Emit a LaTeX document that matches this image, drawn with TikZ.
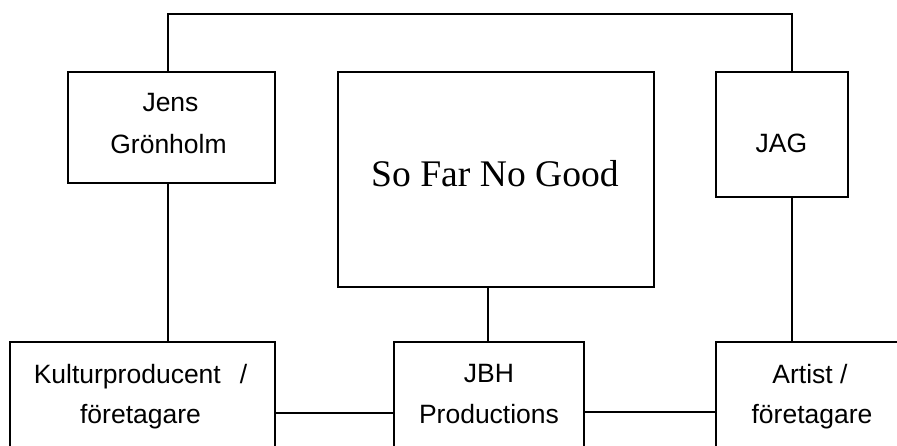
\documentclass[tikz,border=0pt]{standalone}
\usepackage{fontspec}
\setmainfont{Liberation Serif}
\newfontfamily\lsans{Liberation Sans}
\tikzset{
  box/.style={draw=black, line width=1.5pt, rectangle, inner sep=0pt, fill=none},
  conn/.style={draw=black, line width=1.5pt},
  lbl/.style={anchor=base, inner sep=0pt, font=\lsans\fontsize{26.5}{26.5}\selectfont},
  big/.style={anchor=base, inner sep=0pt, font=\fontsize{37.6}{40}\selectfont}
}
\begin{document}
\begin{tikzpicture}[x=1pt,y=-1pt]
\useasboundingbox (0,0) rectangle (897,445);
\clip (0,0) rectangle (897,445);
% boxes (positions in pixel coordinates)
\node[box, minimum width=207pt, minimum height=111pt] (jens) at (171.5,127.5) {};
\node[box, minimum width=316pt, minimum height=215pt] (sfng) at (496,179.5) {};
\node[box, minimum width=132pt, minimum height=125pt] (jag) at (782,134.5) {};
\node[box, minimum width=265pt, minimum height=118pt] (kult) at (142.5,401) {};
\node[box, minimum width=190pt, minimum height=118pt] (jbh) at (489,401) {};
\node[box, minimum width=190pt, minimum height=118pt] (art) at (811,401) {};
% texts
\node[lbl] (t1) at (170.5,111.5) {Jens};
\node[lbl] (t2) at (168.5,153) {Grönholm};
\node[big] (t3) at (495,186) {So Far No Good};
\node[lbl] (t4) at (781.5,152) {JAG};
\node[lbl] (t5) at (140.5,383) {Kulturproducent\hspace{19pt}/};
\node[lbl] (t6) at (140.5,423) {företagare};
\node[lbl] (t7) at (489,382) {JBH};
\node[lbl] (t8) at (489,423) {Productions};
\node[lbl] (t9) at (810,383) {Artist /};
\node[lbl] (t10) at (812,423) {företagare};
% connector reference coordinates
\coordinate (xl) at (168,14);
\coordinate (xm) at (488,0);
\coordinate (xr) at (792,14);
\coordinate (yl) at (0,413);
\coordinate (yr) at (0,412);
% connectors
\draw[conn] (xl |- jens.north) -- (xl) -- (xr) -- (xr |- jag.north);
\draw[conn] (xl |- jens.south) -- (xl |- kult.north);
\draw[conn] (xm |- sfng.south) -- (xm |- jbh.north);
\draw[conn] (xr |- jag.south) -- (xr |- art.north);
\draw[conn] (kult.east |- yl) -- (jbh.west |- yl);
\draw[conn] (jbh.east |- yr) -- (art.west |- yr);
\end{tikzpicture}
\end{document}
